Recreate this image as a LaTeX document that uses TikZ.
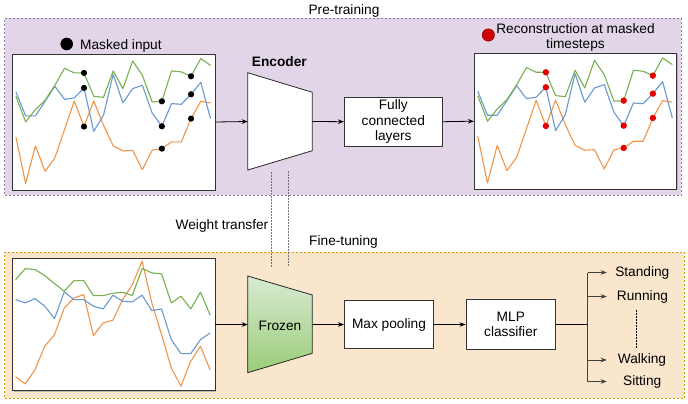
\documentclass[tikz,border=0pt]{standalone}
\usepackage{fontspec}
\setmainfont{Liberation Sans}
\usetikzlibrary{arrows.meta,shadows}

\definecolor{ptfill}{HTML}{E1D5E7}
\definecolor{ptline}{HTML}{9673A6}
\definecolor{ftfill}{HTML}{FAE5CD}
\definecolor{ftline}{HTML}{D79B00}
\definecolor{sgreen}{HTML}{78B050}
\definecolor{sblue}{HTML}{6A98D0}
\definecolor{sorange}{HTML}{F0964A}
\definecolor{frztop}{HTML}{D8EAD3}
\definecolor{frzbot}{HTML}{9ACD78}
\definecolor{recred}{HTML}{E80000}

\newcommand\srcGreen{(0,42.7) -- (1,68.3) -- (2,56) -- (3,46.7) -- (4,31.7) -- (5,14.7) -- (6,19.3) -- (7,19.3) -- (8,42.7) -- (9,43.7) -- (10,17.3) -- (11,35) -- (12,7.3) -- (13,21.7) -- (14,48.3) -- (15,47.7) -- (16,17.3) -- (17,18.3) -- (18,22.7) -- (19,5) -- (20,11.7)}
\newcommand\srcBlue{(0,38.3) -- (1,62.3) -- (2,62.3) -- (3,47.7) -- (4,32.7) -- (5,45.7) -- (6,44.3) -- (7,34.3) -- (8,77.7) -- (9,61.7) -- (10,20.7) -- (11,49.3) -- (12,35) -- (13,31.7) -- (14,59.3) -- (15,72.7) -- (16,50) -- (17,50.7) -- (18,40.7) -- (19,28.7) -- (20,65)}
\newcommand\srcOrange{(0,83.3) -- (1,130) -- (2,92.3) -- (3,117.7) -- (4,104.3) -- (5,76) -- (6,47.3) -- (7,73) -- (8,47.3) -- (9,71.7) -- (10,92.3) -- (11,97.3) -- (12,96.7) -- (13,116) -- (14,96.7) -- (15,95) -- (16,88.3) -- (17,88.3) -- (18,65) -- (19,47.7) -- (20,49.3)}
\newcommand\maskPts{7/19.3,7/34.3,7/73,15/47.7,15/72.7,15/95,18/22.7,18/40.7,18/65}

\begin{document}
\begin{tikzpicture}[x=1pt, y=-1pt, font=\fontsize{13.7}{15.5}\selectfont,
  stage/.style={draw, dash pattern=on 2pt off 2pt, line width=0.8pt, inner sep=0pt},
  plotbox/.style={draw=black!80, fill=white, line width=0.8pt, inner sep=0pt, minimum width=202.3pt,
    drop shadow={shadow xshift=1pt, shadow yshift=-1pt, fill=black!45}},
  blk/.style={draw=black!80, fill=white, line width=0.8pt, inner sep=0pt, align=center},
  arr/.style={-{Stealth[length=6pt,width=4.6pt]}, line width=0.8pt},
  ser/.style={line width=1.1pt, line join=round},
  txt/.style={inner sep=0pt},
  wt/.style={draw=black!55, line width=0.8pt, dash pattern=on 1.5pt off 1.5pt}]
\useasboundingbox (0,0) rectangle (688,404);

\node[stage, draw=ptline, fill=ptfill, minimum width=676.5pt, minimum height=177pt] (pre) at (342.75,106.5){};
\node[stage, draw=ftline, fill=ftfill, minimum width=679.5pt, minimum height=146pt] (fine) at (344.25,325){};
\node[txt, anchor=base] (pretxt) at (344,14.3){Pre-training};
\node[txt, anchor=base] (finetxt) at (343.5,245){Fine-tuning};
\node[txt, anchor=base] (wttxt) at (222,229){Weight transfer};

\node[plotbox, minimum height=136pt] (inplot) at (113.85,122){};
\begin{scope}[shift={(inplot.north west)}, xshift=3.6pt, x=9.73pt]
\draw[ser, sorange] \srcOrange;
\draw[ser, sblue] \srcBlue;
\draw[ser, sgreen] \srcGreen;
\foreach \i/\v in \maskPts
  \fill (\i,\v) circle[radius=3.1pt];
\end{scope}
\node[circle, fill, minimum size=12.6pt, inner sep=0pt] (maskdot) at (66.7,44){};
\node[txt, anchor=base west] (masktxt) at (80,49.5){Masked input};

\node[plotbox, minimum height=135.7pt] (recplot) at (575.5,121.2){};
\begin{scope}[shift={(recplot.north west)}, xshift=3.8pt, x=9.73pt]
\draw[ser, sorange] \srcOrange;
\draw[ser, sblue] \srcBlue;
\draw[ser, sgreen] \srcGreen;
\foreach \i/\v in \maskPts
  \fill[recred] (\i,\v) circle[radius=3.2pt];
\end{scope}
\node[circle, fill=recred!90!black, draw=recred!50!black, minimum size=12.4pt, inner sep=0pt] (recdot) at (488.3,35){};
\node[txt, align=center] (rectxt) at (575.5,37.3){Reconstruction at masked\\timesteps};

\draw[line width=0.8pt, draw=black!85, fill=white] (247.7,72.7) -- (312.3,92.3) -- (312.3,150.7) -- (247.7,170) -- cycle;
\coordinate (encW) at (247.7,121.5);
\coordinate (encE) at (312.3,121.5);
\node[txt, font=\fontsize{13.7}{15.5}\selectfont\bfseries, anchor=base] (enctxt) at (279.3,66.7){Encoder};
\node[blk, minimum width=98pt, minimum height=48.7pt] (fc) at (393.3,121.7){Fully\\connected\\layers};
\draw[arr] (inplot.east) -- (encW);
\draw[arr] (encE) -- (fc.west);
\draw[arr] (fc.east) -- (recplot.west);

\coordinate (wtA1) at (271.7,172);
\coordinate (wtA2) at (271.7,267);
\coordinate (wtB1) at (288.3,171);
\coordinate (wtB2) at (288.3,266);
\draw[wt] (wtA1) -- (wtA2);
\draw[wt] (wtB1) -- (wtB2);

\node[plotbox, minimum height=132.4pt] (ftplot) at (113.85,324.5){};
\begin{scope}[shift={(ftplot.north west)}, xshift=3.3pt, x=9.73pt]
\draw[ser, sorange] (0,119) -- (1,126) -- (2,111.7) -- (3,88.3) -- (4,76.7) -- (5,50) -- (6,40) -- (7,36.7) -- (8,77.7) -- (9,65) -- (10,62.3) -- (11,41.7) -- (12,26.7) -- (13,3.3) -- (14,45) -- (15,76.7) -- (16,110) -- (17,128.3) -- (18,103.3) -- (19,88.3) -- (20,112.3);
\draw[ser, sblue] (0,41.7) -- (1,45) -- (2,40.7) -- (3,48.3) -- (4,60.7) -- (5,34) -- (6,41.7) -- (7,41.7) -- (8,48.3) -- (9,51) -- (10,37.3) -- (11,43.3) -- (12,44) -- (13,37.3) -- (14,52.7) -- (15,51) -- (16,81.7) -- (17,95.7) -- (18,95.7) -- (19,81.7) -- (20,75);
\draw[ser, sgreen] (0,21.7) -- (1,10.7) -- (2,11.7) -- (3,17.7) -- (4,25.7) -- (5,33.3) -- (6,22.7) -- (7,22.7) -- (8,37.7) -- (9,37.7) -- (10,35.3) -- (11,34.3) -- (12,37.7) -- (13,10.7) -- (14,15) -- (15,16) -- (16,45) -- (17,38.3) -- (18,51) -- (19,34.3) -- (20,57.3);
\end{scope}

\shade[top color=frztop, bottom color=frzbot] (247.7,276) -- (312.3,295) -- (312.3,353.3) -- (247.7,372.7) -- cycle;
\draw[line width=0.8pt, draw=black!85] (247.7,276) -- (312.3,295) -- (312.3,353.3) -- (247.7,372.7) -- cycle;
\coordinate (frzW) at (247.7,324.5);
\coordinate (frzE) at (312.3,324.5);
\node[txt] (frz) at (280,326){Frozen};
\node[blk, minimum width=89.4pt, minimum height=48.3pt] (pool) at (389,324.5){Max pooling};
\node[blk, minimum width=89.7pt, minimum height=49.3pt] (mlp) at (510.8,324.5){MLP\\classifier};
\draw[arr] (ftplot.east) -- (frzW);
\draw[arr] (frzE) -- (pool.west);
\draw[arr] (pool.east) -- (mlp.west);

\node[txt] (stand) at (642.3,272.5){Standing};
\node[txt] (run) at (642.5,296.5){Running};
\node[txt] (walk) at (642,360){Walking};
\node[txt] (sit) at (642.2,381.5){Sitting};
\coordinate (junc) at (587.7,324.5);
\coordinate (tip) at (606.7,324.5);
\draw[line width=1.3pt] (mlp.east) -- (junc);
\draw[line width=0.8pt, draw=black!75] (junc |- stand) -- (junc |- sit);
\foreach \lbl in {stand,run,walk,sit}
  \draw[arr, draw=black!75] (junc |- \lbl) -- (tip |- \lbl);
\draw[line width=0.6pt, dash pattern=on 1.5pt off 1.5pt] ([xshift=-5.8pt,yshift=-7pt]run.south) -- ([xshift=-5.3pt,yshift=5pt]walk.north);
\end{tikzpicture}
\end{document}
